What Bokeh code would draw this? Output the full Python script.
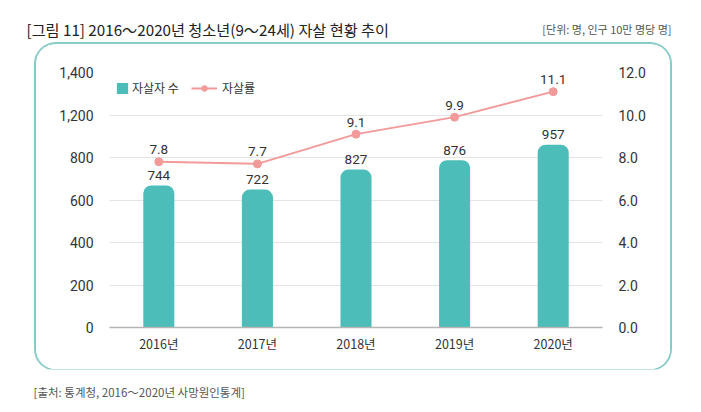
from bokeh.plotting import figure
from bokeh.layouts import column
from bokeh.core.properties import value
from bokeh.models import (FactorRange, Range1d, LinearAxis, FixedTicker, ColumnDataSource,
                          LabelSet, Label, Legend, LegendItem, PrintfTickFormatter)
from bokeh.embed import file_html
from bokeh.resources import INLINE

# ---- data ----
years = ["2016년", "2017년", "2018년", "2019년", "2020년"]
deaths = [744, 722, 827, 876, 957]
rates = [7.8, 7.7, 9.1, 9.9, 11.1]
rate_ticks = [0, 2, 4, 6, 8, 10, 12]
left_tick_labels = ["0", "200", "400", "600", "800", "1,200", "1,400"]
bar_series = "자살자 수"
line_series = "자살률"
title_text = "[그림 11] 2016～2020년 청소년(9～24세) 자살 현황 추이"
unit_text = "[단위: 명, 인구 10만 명당 명]"
source_text = "[출처: 통계청, 2016～2020년 사망원인통계]"

TEAL = "#4cbdb8"
PINK = "#f29a9a"
BOX = "#86cbc7"
TXT = "#333333"
KR = "Noto Sans CJK KR"
NUM = "Roboto"


def no_align(f):
    try:
        f.frame_align = False
    except Exception:
        pass


def text_strip(h):
    f = figure(width=701, height=h, x_range=Range1d(0, 1), y_range=Range1d(0, 1),
               x_axis_type=None, y_axis_type=None, output_backend="svg", toolbar_location=None,
               min_border=0)
    f.outline_line_color = None
    f.grid.visible = False
    f.border_fill_color = "white"
    no_align(f)
    return f


# ---- header ----
head = text_strip(43)
head.add_layout(Label(x=26, y=15, x_units="screen", y_units="screen", text=title_text,
                      text_font=KR, text_font_size="15.2px", text_color="#222222",
                      text_baseline="middle", text_align="left"))
head.add_layout(Label(x=671, y=15, x_units="screen", y_units="screen", text=unit_text,
                      text_font=KR, text_font_size="11px", text_color="#555555",
                      text_baseline="middle", text_align="right"))

# ---- main chart ----
src = ColumnDataSource(dict(
    year=years, deaths=deaths, rates=rates,
    dlab=[f"{v}" for v in deaths], rlab=[f"{r:.1f}" for r in rates]))

p = figure(width=634, height=325, x_range=FactorRange(*years), y_range=Range1d(0, 12),
           output_backend="svg", toolbar_location=None,
           min_border_left=73, min_border_right=68, min_border_top=28, min_border_bottom=42)
no_align(p)
p.margin = (1, 0, 0, 36)
p.styles = {"border-radius": "20px", "overflow": "hidden",
            "box-shadow": f"0 0 0 2px {BOX}"}
p.outline_line_color = None
p.background_fill_color = "white"
p.border_fill_color = "white"
p.x_range.range_padding = 0
p.extra_y_ranges = {"bars": Range1d(0, 1335)}

ly = p.yaxis[0]
ly.ticker = FixedTicker(ticks=rate_ticks)
ly.major_label_overrides = {t: lab for t, lab in zip(rate_ticks, left_tick_labels)}
ry = LinearAxis(ticker=FixedTicker(ticks=rate_ticks), formatter=PrintfTickFormatter(format="%.1f"))
p.add_layout(ry, "right")
for ax in (ly, ry):
    ax.axis_line_color = None
    ax.major_tick_line_color = None
    ax.minor_tick_line_color = None
    ax.major_label_text_font = NUM
    ax.major_label_text_font_size = "14px"
    ax.major_label_text_color = TXT
    ax.major_label_standoff = 10
xa = p.xaxis[0]
xa.axis_line_color = "#b5b5b5"
xa.axis_line_width = 1.5
xa.major_tick_line_color = None
xa.minor_tick_line_color = None
xa.major_label_text_font = KR
xa.major_label_text_font_size = "12.5px"
xa.major_label_text_color = TXT
xa.major_label_standoff = 0

p.xgrid.grid_line_color = None
p.ygrid.ticker = FixedTicker(ticks=rate_ticks)
p.ygrid.grid_line_color = "#e4e4e4"
p.ygrid.grid_line_width = 1

bars = p.vbar(x="year", top="deaths", width=0.315, source=src, y_range_name="bars",
              fill_color=TEAL, line_color=None, border_radius=(8, 8, 0, 0))
ln = p.line(x="year", y="rates", source=src, line_color=PINK, line_width=2)
pt = p.scatter(x="year", y="rates", source=src, size=8, fill_color=PINK, line_color=PINK)

p.add_layout(LabelSet(x="year", y="deaths", text="dlab", source=src, y_range_name="bars",
                      y_offset=10, text_align="center", text_baseline="middle",
                      text_font=value(NUM), text_font_size="13.5px", text_color=TXT))
p.add_layout(LabelSet(x="year", y="rates", text="rlab", source=src,
                      y_offset=12, text_align="center", text_baseline="middle",
                      text_font=value(NUM), text_font_size="13.5px", text_color=TXT))

leg1 = Legend(items=[LegendItem(label=bar_series, renderers=[bars])], location=(6, 231),
              glyph_width=14, glyph_height=14, label_height=14, label_standoff=3,
              padding=0, margin=0, border_line_color=None, background_fill_alpha=0,
              label_text_font=KR, label_text_font_size="12px", label_text_color=TXT)
leg2 = Legend(items=[LegendItem(label=line_series, renderers=[ln, pt])], location=(82, 231),
              glyph_width=26, glyph_height=14, label_height=14, label_standoff=5,
              padding=0, margin=0, border_line_color=None, background_fill_alpha=0,
              label_text_font=KR, label_text_font_size="12px", label_text_color=TXT)
p.add_layout(leg1, "center")
p.add_layout(leg2, "center")

# ---- footer ----
foot = text_strip(40)
foot.add_layout(Label(x=33, y=18, x_units="screen", y_units="screen", text=source_text,
                      text_font=KR, text_font_size="11.5px", text_color="#555555",
                      text_baseline="middle", text_align="left"))

layout = column(head, p, foot, spacing=0)
open("out.html", "w").write(file_html(layout, INLINE))
